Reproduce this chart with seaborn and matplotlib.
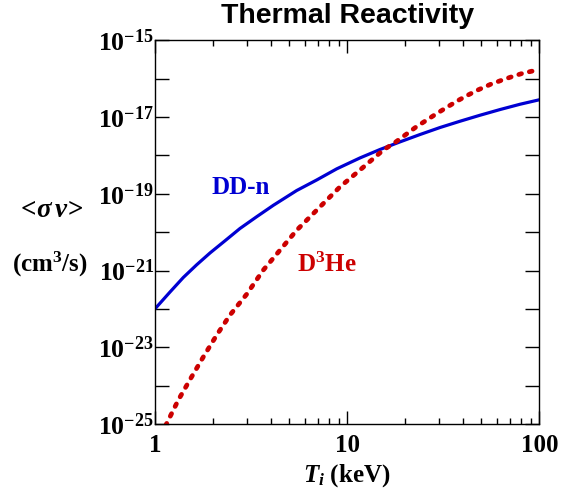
import numpy as np
import pandas as pd
import matplotlib
matplotlib.use("Agg")
import matplotlib.pyplot as plt
import seaborn as sns
from matplotlib.ticker import NullLocator, FixedLocator

# ---- data (log10 of <sigma v>) ----
dd_T = [1.0, 1.193, 1.40, 1.643, 1.93, 2.307, 2.76, 3.375, 4.12, 5.45, 6.93, 8.81,
        11.65, 14.8, 18.8, 23.9, 30.4, 38.6, 49.1, 62.4, 79.3, 100.0]
dd_log_sigv = [-21.99, -21.56, -21.18, -20.85, -20.54, -20.225, -19.905, -19.597, -19.30,
               -18.915, -18.64, -18.35, -18.065, -17.846, -17.648, -17.456, -17.273, -17.11,
               -16.953, -16.805, -16.667, -16.55]
d3he_T = [1.13, 1.318, 1.53, 1.78, 2.09, 2.45, 2.99, 3.65, 4.46, 5.45, 7.21, 9.16, 11.9,
          15.4, 17.7, 20.0, 22.8, 25.9, 29.2, 32.9, 37.4, 42.4, 48.1, 55.8, 63.7, 72.3,
          81.9, 92.4, 100.0]
d3he_log_sigv = [-25.05, -24.375, -23.81, -23.25, -22.68, -22.16, -21.62, -20.99, -20.47,
                 -19.95, -19.34, -18.82, -18.34, -17.86, -17.665, -17.47, -17.26, -17.08,
                 -16.91, -16.75, -16.58, -16.43, -16.29, -16.146, -16.04, -15.945, -15.86,
                 -15.80, -15.77]
dd_sigv = [10.0 ** v for v in dd_log_sigv]
d3he_sigv = [10.0 ** v for v in d3he_log_sigv]

y_exponents = list(range(-25, -14))
x_ticks = [1, 10, 100]
x_ticklabels = ["1", "10", "100"]
title = "Thermal Reactivity"
dd_label = "DD-n"
d3he_label = r"D$^{3}$He"

sns.set_theme(style="white")
plt.rcParams.update({
    "font.family": ["Liberation Serif", "DejaVu Serif"],
    "font.weight": "bold",
    "mathtext.fontset": "custom",
    "mathtext.rm": "Liberation Serif:bold",
    "mathtext.bf": "Liberation Serif:bold",
    "mathtext.it": "Liberation Serif:italic:bold",
    "mathtext.default": "rm",
})

blue = "#0000d2"
red = "#cc0000"

fig = plt.figure(figsize=(5.61, 4.94), dpi=100)
ax = fig.add_axes([0.2768, 0.1417, 0.6845, 0.7767])
ax.set_xscale("log")
ax.set_yscale("log")

df_dd = pd.DataFrame({"T": dd_T, "sigv": dd_sigv})
df_he = pd.DataFrame({"T": d3he_T, "sigv": d3he_sigv})
sns.lineplot(data=df_dd, x="T", y="sigv", ax=ax, color=blue, lw=2.3, sort=True,
             solid_joinstyle="round")
sns.lineplot(data=df_he, x="T", y="sigv", ax=ax, color=red, lw=3.4,
             linestyle=(0, (0.6, 1.7)), dash_capstyle="round", sort=True)

ax.set_xlim(1, 100)
ax.set_ylim(1e-25, 1e-15)

# y ticks
ax.yaxis.set_major_locator(FixedLocator([10.0 ** e for e in y_exponents]))
ax.yaxis.set_minor_locator(NullLocator())
ax.set_yticklabels([(r"$10^{%d}$" % e) if e % 2 != 0 else "" for e in y_exponents])
# x ticks
ax.xaxis.set_major_locator(FixedLocator(x_ticks))
ax.set_xticklabels(x_ticklabels)
ax.xaxis.set_minor_locator(FixedLocator([d * 10 ** k for k in range(0, 2) for d in range(2, 10)]))

ax.tick_params(axis="y", which="major", direction="in", length=10, width=1.0,
               left=True, right=True, labelsize=18.5, pad=1.0, colors="black")
ax.tick_params(axis="x", which="major", direction="in", length=9.5, width=1.0,
               bottom=True, top=True, labelsize=18, pad=7.5, colors="black")
ax.tick_params(axis="x", which="minor", direction="in", length=4, width=1.0,
               bottom=True, top=True, colors="black")
for lab in ax.get_xticklabels() + ax.get_yticklabels():
    lab.set_fontweight("bold")
    lab.set_family("Liberation Serif")

for sp in ax.spines.values():
    sp.set_color("black")
    sp.set_linewidth(1.0)

ax.set_xlabel("")
ax.set_ylabel("")

# curve labels
ax.text(1.97, 10 ** -18.83, dd_label, color=blue, fontsize=18, fontweight="bold",
        ha="left", va="center", family="Liberation Serif")
ax.text(5.45, 10 ** -20.86, d3he_label, color=red, fontsize=18, fontweight="bold",
        ha="left", va="center", family="Liberation Serif")

# title
fig.text(348 / 561, 1 - 16 / 494, title, ha="center", va="center", fontsize=20.5,
         fontweight="bold", family="Liberation Sans", color="black")

# axis labels
fig.text(49.5 / 561, 1 - 210 / 494, r"$<\!\mathit{\sigma}\,\mathit{v}\!>$", ha="center",
         va="center", fontsize=19.5, color="black")
fig.text(50 / 561, 1 - 264 / 494, r"(cm$^{3}$/s)", ha="center", va="center",
         fontsize=18, fontweight="bold", color="black")
fig.text(347 / 561, 1 - 481.5 / 494, r"$\mathit{T_i}$ (keV)", ha="center", va="baseline",
         fontsize=18, fontweight="bold", color="black")

fig.savefig("out.png", dpi=100)
